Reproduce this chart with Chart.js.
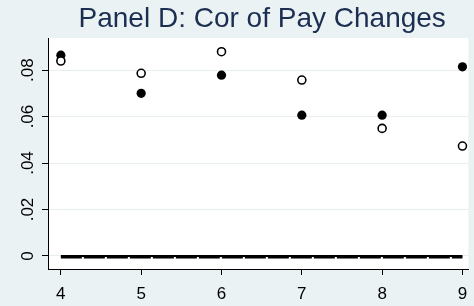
<!DOCTYPE html>
<html>
<head>
<meta charset="utf-8">
<script src="https://cdn.jsdelivr.net/npm/chart.js@4/dist/chart.umd.min.js"></script>
<style>
  html, body { margin: 0; padding: 0; background: #EAF2F3; }
  #wrap { width: 474px; height: 306px; position: relative; }
</style>
</head>
<body>
<div id="wrap"><canvas id="c" width="474" height="306"></canvas></div>
<script>
// ---- data ----
const titleText = 'Panel D: Cor of Pay Changes';
const categories = [4, 5, 6, 7, 8, 9];
const filledValues = [0.0864, 0.0700, 0.0778, 0.0606, 0.0606, 0.0814];
const hollowValues = [0.0839, 0.0786, 0.0879, 0.0757, 0.0549, 0.0473];
const zeroLineX = [4, 9];
const zeroLineY = [0, 0];
const zeroDashY = [-0.0007, -0.0007];
const xTickValues = [4, 5, 6, 7, 8, 9];
const xTickLabels = ['4', '5', '6', '7', '8', '9'];
const yTickValues = [0, 0.02, 0.04, 0.06, 0.08];
const yTickLabels = ['0', '.02', '.04', '.06', '.08'];

const BG = '#EAF2F3';
const FONT = '"Liberation Sans", Arial, sans-serif';

const bgPlugin = {
  id: 'bg',
  beforeDraw(chart) {
    const { ctx, chartArea: a } = chart;
    ctx.save();
    ctx.fillStyle = BG;
    ctx.fillRect(0, 0, chart.width, chart.height);
    ctx.fillStyle = '#ffffff';
    ctx.fillRect(a.left, a.top, a.right - a.left, a.bottom - a.top);
    ctx.restore();
  },
  afterDraw(chart) {
    const { ctx, chartArea: a } = chart;
    ctx.save();
    // title
    ctx.fillStyle = '#1c2f52';
    ctx.font = '28px ' + FONT;
    ctx.textAlign = 'center';
    ctx.textBaseline = 'alphabetic';
    ctx.fillText(titleText, (a.left + a.right) / 2 + 4, 27);
    // x labels
    ctx.fillStyle = '#000';
    ctx.font = '17px ' + FONT;
    const xs = chart.scales.x;
    xTickValues.forEach((v, i) => {
      ctx.fillText(xTickLabels[i], xs.getPixelForValue(v), 299);
    });
    // y labels rotated
    const ys = chart.scales.y;
    yTickValues.forEach((v, i) => {
      ctx.save();
      ctx.translate(33, ys.getPixelForValue(v));
      ctx.rotate(-Math.PI / 2);
      ctx.textAlign = 'center';
      ctx.textBaseline = 'alphabetic';
      ctx.fillText(yTickLabels[i], 0, 0);
      ctx.restore();
    });
    ctx.restore();
  }
};

const toPts = (xs, ys) => xs.map((x, i) => ({ x: x, y: ys[i] }));

new Chart(document.getElementById('c'), {
  type: 'scatter',
  data: {
    datasets: [
      {
        label: 'hollow',
        data: toPts(categories, hollowValues),
        pointRadius: 4,
        pointBackgroundColor: '#ffffff',
        pointBorderColor: '#000000',
        pointBorderWidth: 1.6,
        showLine: false
      },
      {
        label: 'filled',
        data: toPts(categories, filledValues),
        pointRadius: 4.6,
        pointBackgroundColor: '#000000',
        pointBorderColor: '#000000',
        pointBorderWidth: 0,
        showLine: false
      },
      {
        type: 'line',
        label: 'zero dashed',
        data: toPts(zeroLineX, zeroDashY),
        borderColor: '#000',
        borderWidth: 2,
        borderDash: [21, 2],
        pointRadius: 0,
        fill: false
      },
      {
        type: 'line',
        label: 'zero',
        data: toPts(zeroLineX, zeroLineY),
        borderColor: '#000',
        borderWidth: 2,
        pointRadius: 0,
        fill: false
      }
    ]
  },
  plugins: [bgPlugin],
  options: {
    responsive: false,
    animation: false,
    devicePixelRatio: 1,
    layout: { padding: { top: 38, left: 0, right: 0, bottom: 0 } },
    plugins: { legend: { display: false }, title: { display: false }, tooltip: { enabled: false } },
    scales: {
      x: {
        type: 'linear',
        min: 3.84,
        max: 9.074,
        afterBuildTicks(scale) { scale.ticks = xTickValues.map(v => ({ value: v })); },
        afterFit(scale) { scale.height = 37; },
        ticks: { display: false },
        grid: { drawOnChartArea: false, drawTicks: true, tickLength: 6, tickColor: '#000', tickWidth: 1 },
        border: { display: true, color: '#000', width: 1 }
      },
      y: {
        type: 'linear',
        min: -0.0056,
        max: 0.0938,
        afterBuildTicks(scale) { scale.ticks = yTickValues.map(v => ({ value: v })); },
        afterFit(scale) { scale.width = 48; },
        ticks: { display: false },
        grid: { drawOnChartArea: true, color: '#E6EEF0', lineWidth: 1, drawTicks: true, tickLength: 6, tickColor: '#000', tickWidth: 1 },
        border: { display: true, color: '#000', width: 1 }
      }
    }
  }
});
</script>
</body>
</html>
